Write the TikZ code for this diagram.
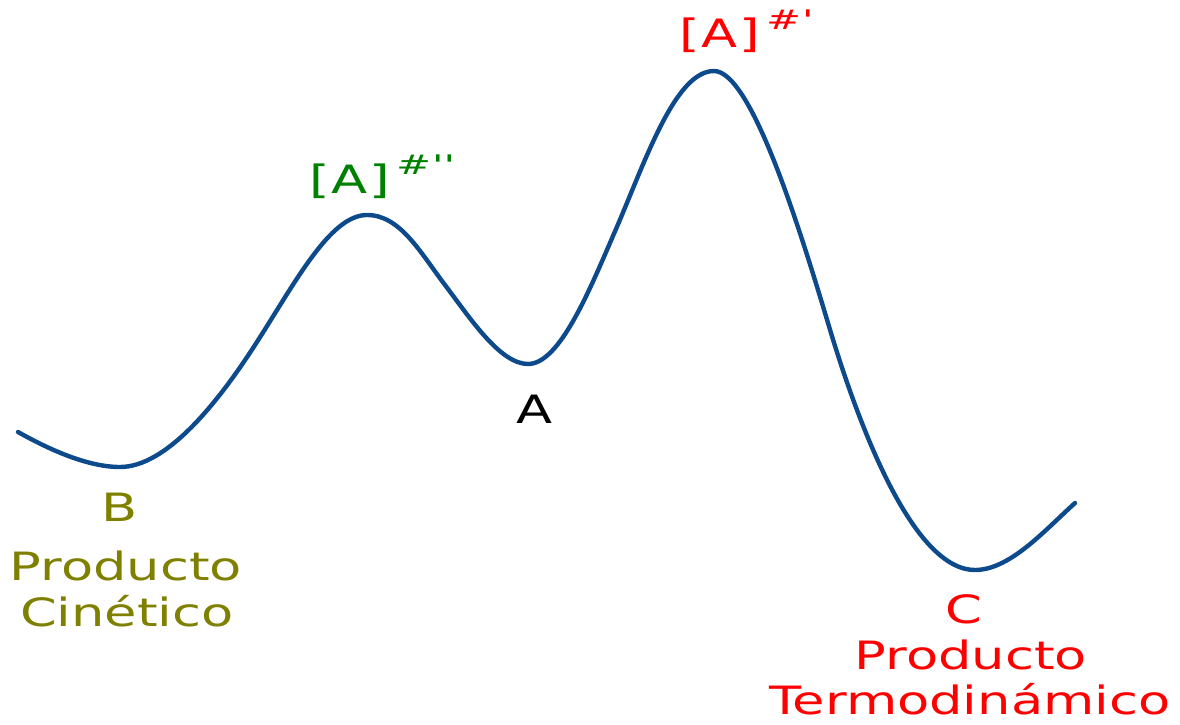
\documentclass[tikz,border=0pt]{standalone}
\usepackage{fontspec}
\newfontfamily\dvs[FakeStretch=1.35]{DejaVu Sans}
\newfontfamily\dvsup[FakeStretch=1.55]{DejaVu Sans}
\definecolor{curveblue}{RGB}{12,74,140}
\definecolor{olivetxt}{RGB}{128,128,0}
\definecolor{greentxt}{RGB}{0,128,0}
\definecolor{redtxt}{RGB}{255,0,0}
\tikzset{
  lbl/.style={inner sep=0pt, font=\dvs\fontsize{39}{46}\selectfont},
  suplbl/.style={inner sep=0pt, anchor=base west, font=\dvsup\fontsize{27}{27}\selectfont},
  energy/.style={draw=curveblue, line width=4.4pt, line cap=round, line join=round}
}
\begin{document}
\begin{tikzpicture}[x=1pt,y=-1pt]
\useasboundingbox (0,0) rectangle (1180,725);
\coordinate (s) at (18,432);
\coordinate (mB) at (120,467);
\coordinate (i1) at (255,345);
\coordinate (p2) at (367,215);
\coordinate (i2) at (445,285);
\coordinate (mA) at (528,364);
\coordinate (i3) at (616,229);
\coordinate (p1) at (714,71);
\coordinate (i4) at (831,333);
\coordinate (mC) at (975,570);
\coordinate (e) at (1075,503);
\draw[energy] (s) .. controls (50,450) and (88,467) .. (mB)
  .. controls (165,467) and (215,407) .. (i1)
  .. controls (295,283) and (330,215) .. (p2)
  .. controls (400,215) and (420,252) .. (i2)
  .. controls (470,318) and (500,364) .. (mA)
  .. controls (560,364) and (590,289) .. (i3)
  .. controls (645,162) and (675,71) .. (p1)
  .. controls (752,71) and (802,236) .. (i4)
  .. controls (862,435) and (915,570) .. (mC)
  .. controls (1010,570) and (1045,530) .. (e);
% transition states
\node[lbl, anchor=base west, text=greentxt] (ts2) at (309,193) {[\kern2pt A\kern2pt]};
\node[suplbl, text=greentxt] (ts2s) at (396,174) {\#\kern1pt''};
\node[lbl, anchor=base west, text=redtxt] (ts1) at (679,48) {[\kern2pt A\kern2pt]};
\node[suplbl, text=redtxt] (ts1s) at (766,30) {\#\kern1pt'};
% minima
\node[lbl, anchor=base, text=black] (a) at (535,423) {A};
\node[lbl, anchor=base, text=olivetxt] (b) at (120,521) {B};
\node[lbl, anchor=base, text=olivetxt] (b1) at (126,580) {Producto};
\node[lbl, anchor=base, text=olivetxt] (b2) at (127,626) {Cinético};
\node[lbl, anchor=base, text=redtxt] (c) at (964,623) {C};
\node[lbl, anchor=base, text=redtxt] (c1) at (971,669) {Producto};
\node[lbl, anchor=base, text=redtxt] (c2) at (970,714) {Termodinámico};
\end{tikzpicture}
\end{document}
